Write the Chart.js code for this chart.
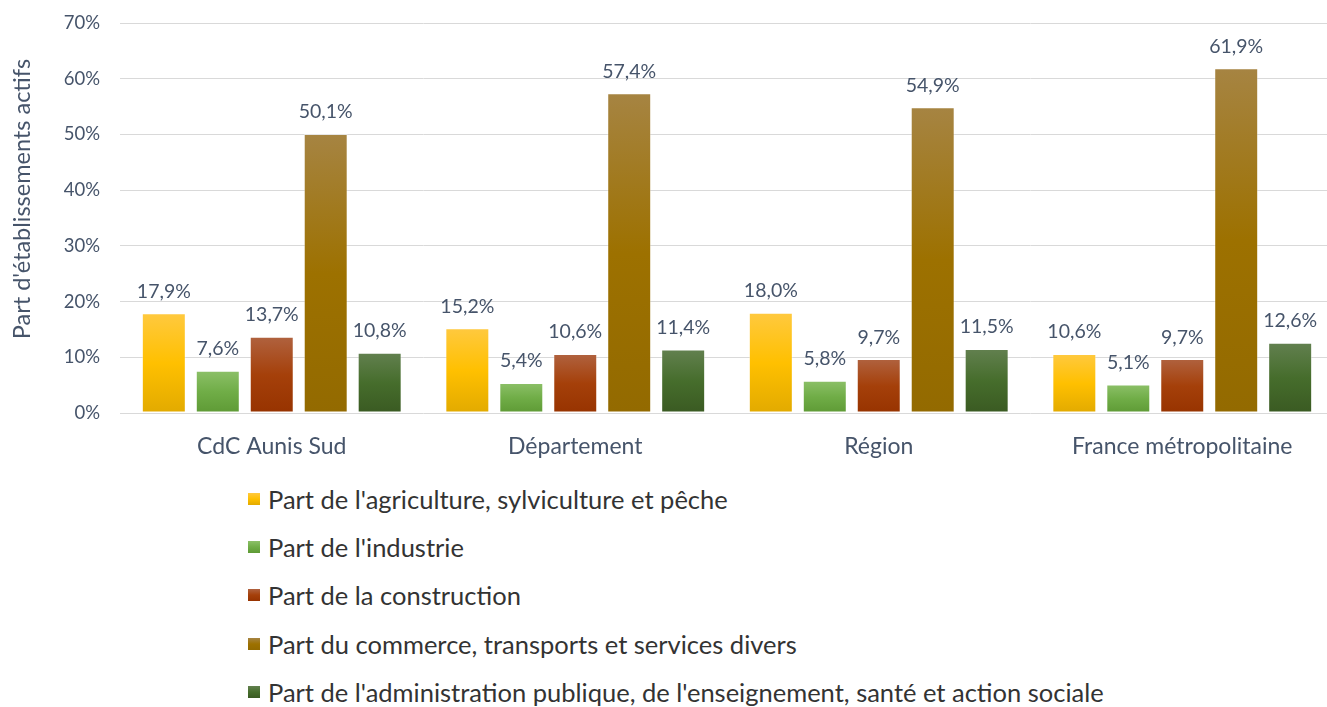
<!DOCTYPE html>
<html><head><meta charset="utf-8">
<script src="https://cdn.jsdelivr.net/npm/chart.js@4/dist/chart.umd.min.js"></script>
<style>
html,body{margin:0;padding:0;background:#fff;overflow:hidden;width:1327px;height:707px;}
#wrap{position:absolute;left:0;top:-8px;width:1340px;height:480px;}
#legend{position:absolute;left:248px;top:482px;font-family:Lato,"Open Sans",sans-serif;font-size:25.5px;color:#333;}
#legend .it{height:48.2px;display:flex;align-items:flex-start;line-height:34px;}
#legend .sw{width:12px;height:12px;margin:11px 8px 0 0;}
</style></head><body>
<div id="wrap"><canvas id="c"></canvas></div>
<div id="legend"></div>
<script>
const categories = ["CdC Aunis Sud", "Département", "Région", "France métropolitaine"];
const seriesNames = [
  "Part de l'agriculture, sylviculture et pêche",
  "Part de l'industrie",
  "Part de la construction",
  "Part du commerce, transports et services divers",
  "Part de l'administration publique, de l'enseignement, santé et action sociale"
];
const agriculture = [17.9, 15.2, 18.0, 10.6];
const industrie = [7.6, 5.4, 5.8, 5.1];
const construction = [13.7, 10.6, 9.7, 9.7];
const commerce = [50.1, 57.4, 54.9, 61.9];
const administration = [10.8, 11.4, 11.5, 12.6];
const yTicks = [0, 10, 20, 30, 40, 50, 60, 70];
const yTitle = "Part d'établissements actifs";

const palettes = [
  ["#FFC93F", "#FFC000", "#E2AA00"],
  ["#8CC068", "#70AD47", "#5E9A35"],
  ["#B0623F", "#A5400A", "#973300"],
  ["#A68442", "#9D7100", "#936A00"],
  ["#62804F", "#466D2C", "#3A5A22"]
];
const seriesData = [agriculture, industrie, construction, commerce, administration];
const FONT = 'Lato, "Open Sans", sans-serif';

const datasets = seriesData.map((d, i) => ({
  label: seriesNames[i],
  data: d,
  backgroundColor: (c) => {
    const chart = c.chart; const {ctx, chartArea, scales} = chart;
    if (!chartArea || !scales || !scales.y || c.type !== 'data') return palettes[i][1];
    const v = c.raw;
    const top = scales.y.getPixelForValue(v), bot = scales.y.getPixelForValue(0);
    if (!isFinite(top) || !isFinite(bot) || bot - top < 1) return palettes[i][1];
    const g = ctx.createLinearGradient(0, top, 0, bot);
    g.addColorStop(0, palettes[i][0]);
    g.addColorStop(0.5, palettes[i][1]);
    g.addColorStop(1, palettes[i][2]);
    return g;
  },
  borderColor: "rgba(255,255,255,0.35)",
  borderWidth: 1,
  borderSkipped: false,
  categoryPercentage: 0.889,
  barPercentage: 0.815
}));

const labelPlugin = {
  id: 'valueLabels',
  afterDatasetsDraw(chart) {
    const ctx = chart.ctx;
    ctx.save();
    ctx.font = '19.5px ' + FONT;
    ctx.fillStyle = '#46546A';
    ctx.textAlign = 'center';
    ctx.textBaseline = 'bottom';
    chart.data.datasets.forEach((ds, i) => {
      const meta = chart.getDatasetMeta(i);
      meta.data.forEach((el, j) => {
        const v = ds.data[j];
        ctx.fillText(v.toFixed(1).replace('.', ',') + '%', el.x, el.y - 12);
      });
    });
    // y axis title
    ctx.save();
    ctx.translate(22, 207);
    ctx.rotate(-Math.PI / 2);
    ctx.font = '23.5px ' + FONT;
    ctx.textBaseline = 'middle';
    ctx.fillText(yTitle, 0, 0);
    ctx.restore();
    ctx.restore();
  }
};

const chart = new Chart(document.getElementById('c'), {
  type: 'bar',
  data: { labels: categories, datasets },
  plugins: [labelPlugin],
  options: {
    responsive: true,
    maintainAspectRatio: false,
    animation: false,
    layout: { padding: { top: 7, right: 6, left: 0, bottom: 0 } },
    plugins: { legend: { display: false }, tooltip: { enabled: false } },
    scales: {
      x: {
        grid: { display: false, drawTicks: false },
        border: { display: false },
        ticks: { color: '#46546A', font: { family: FONT, size: 23 }, padding: 20 },
        afterFit: (s) => { s.height = 59; }
      },
      y: {
        min: 0, max: 70,
        afterBuildTicks: (s) => { s.ticks = yTicks.map(v => ({ value: v })); },
        ticks: { color: '#46546A', font: { family: FONT, size: 18.5 }, padding: 20, callback: (v) => v + '%' },
        grid: { color: '#D9D9D9', lineWidth: 1, drawTicks: false },
        border: { display: false },
        title: { display: false },
        afterFit: (s) => { s.width = 120; }
      }
    }
  }
});

const lg = document.getElementById('legend');
seriesNames.forEach((n, i) => {
  const d = document.createElement('div'); d.className = 'it';
  const sw = document.createElement('span'); sw.className = 'sw';
  sw.style.background = 'linear-gradient(' + palettes[i][0] + ',' + palettes[i][1] + ',' + palettes[i][2] + ')';
  const t = document.createElement('span'); t.textContent = n;
  d.appendChild(sw); d.appendChild(t); lg.appendChild(d);
});
</script>
</body></html>
